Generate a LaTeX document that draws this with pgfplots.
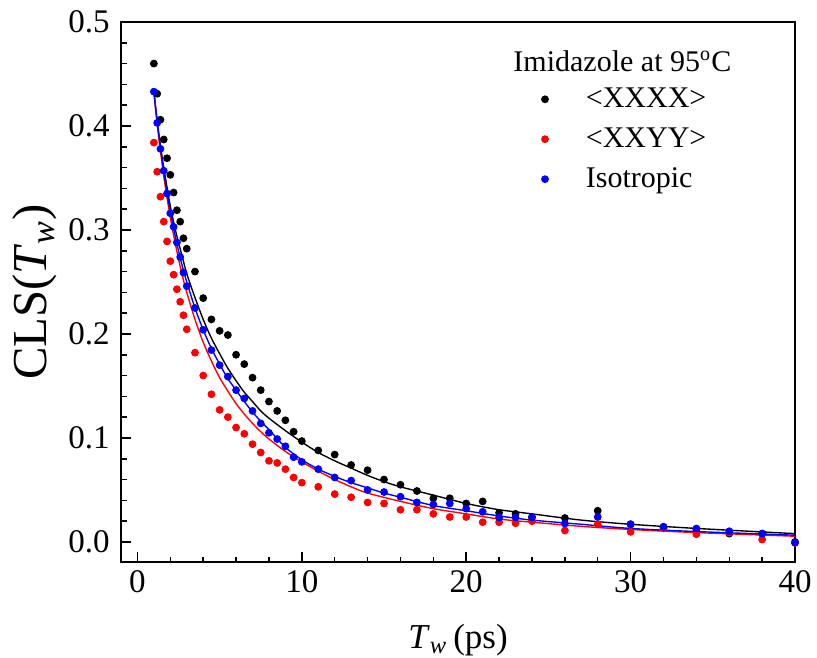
\documentclass[border=0pt]{standalone}
\usepackage{fontspec}
\setmainfont{Liberation Serif}
\usepackage{pgfplots}
\usepackage{pgfplotstable}
\pgfplotsset{compat=1.18}

\pgfplotstableread{
x y
1.0 0.460
1.2 0.431
1.4 0.406
1.6 0.387
1.8 0.369
2.0 0.353
2.2 0.336
2.4 0.319
2.6 0.308
2.8 0.292
3.0 0.282
3.5 0.260
4.0 0.2345
4.5 0.214
5.0 0.203
5.5 0.199
6.0 0.180
6.5 0.171
7.0 0.158
7.5 0.146
8.0 0.135
8.5 0.126
9.0 0.117
9.5 0.106
10 0.097
11 0.088
12 0.084
13 0.074
14 0.069
15 0.060
16 0.055
17 0.049
18 0.042
19 0.042
20 0.037
21 0.039
22 0.028
23 0.027
24 0.024
26 0.023
28 0.030
30 0.017
32 0.0145
34 0.012
36 0.008
38 0.008
40 0.0
}\xxxx

\pgfplotstableread{
x y
1.0 0.384
1.2 0.356
1.4 0.332
1.6 0.308
1.8 0.289
2.0 0.270
2.2 0.257
2.4 0.243
2.6 0.231
2.8 0.218
3.0 0.2045
3.5 0.182
4.0 0.160
4.5 0.142
5.0 0.127
5.5 0.120
6.0 0.110
6.5 0.104
7.0 0.094
7.5 0.086
8.0 0.078
8.5 0.076
9.0 0.070
9.5 0.062
10 0.057
11 0.053
12 0.046
13 0.043
14 0.038
15 0.037
16 0.031
17 0.031
18 0.027
19 0.024
20 0.024
21 0.019
22 0.019
23 0.018
24 0.020
26 0.011
28 0.017
30 0.0097
32 0.013
34 0.0074
36 0.009
38 0.0023
40 -0.001
}\xxyy

\pgfplotstableread{
x y
1.0 0.433
1.2 0.403
1.4 0.378
1.6 0.357
1.8 0.335
2.0 0.316
2.2 0.303
2.4 0.288
2.6 0.274
2.8 0.259
3.0 0.246
3.5 0.225
4.0 0.204
4.5 0.1845
5.0 0.170
5.5 0.159
6.0 0.146
6.5 0.138
7.0 0.126
7.5 0.114
8.0 0.105
8.5 0.099
9.0 0.092
9.5 0.0815
10 0.077
11 0.070
12 0.062
13 0.059
14 0.050
15 0.048
16 0.0435
17 0.038
18 0.036
19 0.037
20 0.032
21 0.029
22 0.0235
23 0.0235
24 0.0235
26 0.0177
28 0.024
30 0.017
32 0.0145
34 0.0129
36 0.0103
38 0.008
40 -0.0006
}\iso

\pgfplotstableread{
x y
1.0 0.433
1.2 0.405
1.4 0.381
1.6 0.360
1.8 0.341
2.0 0.323
2.25 0.304
2.5 0.288
2.75 0.273
3.0 0.258
3.5 0.235
4.0 0.214
4.5 0.196
5.0 0.181
5.5 0.167
6.0 0.155
6.5 0.144
7.0 0.135
7.5 0.126
8.0 0.119
9.0 0.107
10 0.096
11 0.086
12 0.078
13 0.071
14 0.064
15 0.058
16 0.053
18 0.045
20 0.037
22 0.031
24 0.027
27 0.021
30 0.017
34 0.013
40 0.008
}\fitxxxx

\pgfplotstableread{
x y
1.0 0.433
1.2 0.402
1.4 0.376
1.6 0.352
1.8 0.331
2.0 0.312
2.25 0.291
2.5 0.272
2.75 0.255
3.0 0.240
3.5 0.214
4.0 0.192
4.5 0.174
5.0 0.158
5.5 0.145
6.0 0.133
6.5 0.123
7.0 0.114
7.5 0.106
8.0 0.099
9.0 0.087
10 0.077
11 0.068
12 0.060
13 0.053
14 0.047
16 0.039
18 0.032
20 0.027
22 0.022
24 0.019
27 0.015
30 0.012
34 0.009
40 0.0055
}\fitxxyy

\pgfplotstableread{
x y
1.0 0.433
1.2 0.404
1.4 0.379
1.6 0.356
1.8 0.336
2.0 0.318
2.25 0.298
2.5 0.280
2.75 0.264
3.0 0.250
3.5 0.225
4.0 0.204
4.5 0.186
5.0 0.171
5.5 0.157
6.0 0.146
6.5 0.135
7.0 0.125
7.5 0.116
8.0 0.108
9.0 0.091
10 0.079
11 0.070
12 0.063
13 0.057
14 0.052
15 0.047
16 0.043
18 0.035
20 0.030
22 0.025
24 0.021
27 0.017
30 0.013
34 0.010
40 0.0065
}\fitiso

\begin{document}
\begin{tikzpicture}
\begin{axis}[
  scale only axis,
  width=269.6pt, height=216pt,
  xmin=-1, xmax=40, ymin=-0.0193, ymax=0.5,
  xtick={0,10,20,30,40}, minor x tick num=4,
  ytick={0,0.1,0.2,0.3,0.4,0.5}, minor y tick num=4,
  tick pos=left, tick align=inside,
  major tick length=4pt, minor tick length=2.2pt,
  axis line style={line width=0.8pt},
  every tick/.style={black, line width=0.6pt},
  /pgf/number format/assume math mode=true,
  yticklabel style={/pgf/number format/fixed, /pgf/number format/fixed zerofill, /pgf/number format/precision=1, xshift=-1pt},
  ticklabel style={font=\fontsize{13.2}{15}\selectfont},
  xlabel={\textit{T}\textsubscript{\textit{w}}\,(ps)},
  ylabel={CLS(\textit{T}\textsubscript{\textit{w}})},
  xlabel style={font=\fontsize{14}{16}\selectfont, at={(axis description cs:0.5,-0.144)}, anchor=center},
  ylabel style={font=\fontsize{19.5}{22}\selectfont, at={(axis description cs:-0.128,0.5)}, anchor=center},
  legend style={draw=none, fill=none, at={(axis cs:24.1,0.447)}, anchor=north west,
    font=\fontsize{12}{14}\selectfont, row sep=2.6pt,
    /tikz/every odd column/.append style={column sep=13pt}},
  legend cell align=left,
]
\addplot[only marks, mark=*, mark size=1.35pt, black] table {\xxxx};
\addlegendentry{\textless XXXX\textgreater}
\addplot[only marks, mark=*, mark size=1.35pt, red] table {\xxyy};
\addlegendentry{\textless XXYY\textgreater}
\addplot[only marks, mark=*, mark size=1.35pt, blue] table {\iso};
\addlegendentry{Isotropic}
\addplot[black, line width=0.55pt, smooth, forget plot] table {\fitxxxx};
\addplot[red, line width=0.55pt, smooth, forget plot] table {\fitxxyy};
\addplot[blue, line width=0.55pt, smooth, forget plot] table {\fitiso};
\node[font=\fontsize{12}{14}\selectfont] at (axis cs:29.5,0.462) {Imidazole at 95\textsuperscript{o}C};
\end{axis}
\pgfresetboundingbox
\path ([shift={(-48.4pt,-38pt)}]current axis.south west) rectangle ([shift={(8.8pt,8.8pt)}]current axis.north east);
\end{tikzpicture}
\end{document}
